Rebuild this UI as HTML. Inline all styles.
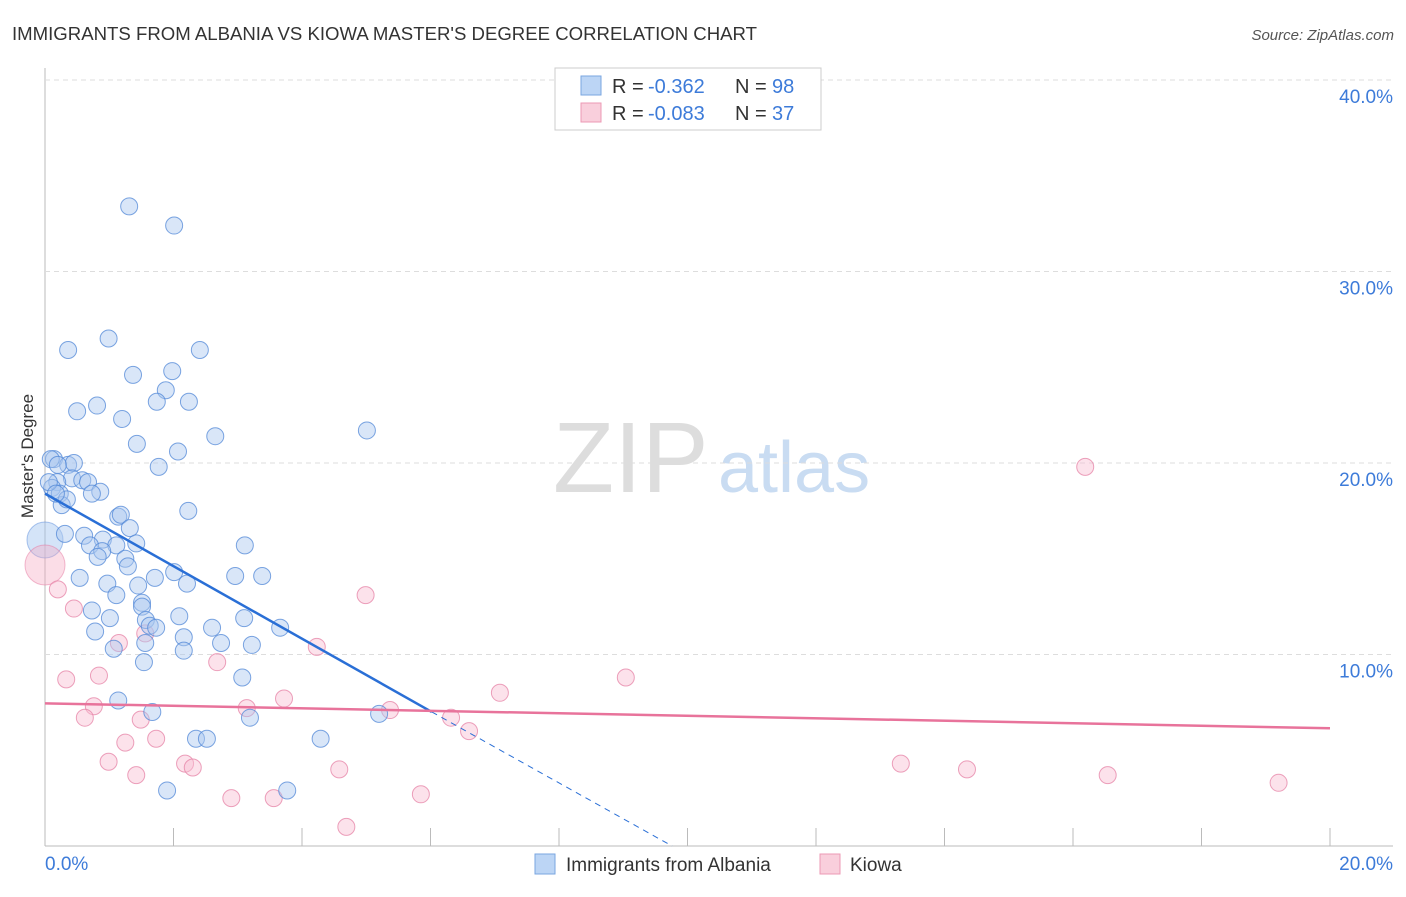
<!DOCTYPE html>
<html><head><meta charset="utf-8"><style>
body{margin:0;background:#fff;font-family:"Liberation Sans",sans-serif}
svg text{font-family:"Liberation Sans",sans-serif}
</style></head><body>
<svg id="c" width="1406" height="892">
<text x="12" y="40" font-size="18.6" fill="#333">IMMIGRANTS FROM ALBANIA VS KIOWA MASTER'S DEGREE CORRELATION CHART</text>
<text x="1394" y="40" font-size="15" fill="#555" font-style="italic" text-anchor="end">Source: ZipAtlas.com</text>
<text x="33" y="456" font-size="17" fill="#333" text-anchor="middle" transform="rotate(-90 33 456)">Master's Degree</text>
<text x="553" y="492" font-size="100" fill="#ddd" font-family="Liberation Serif">ZIP</text>
<text x="718" y="492" font-size="72" fill="#c9dcf2">atlas</text>
<g id="grid"></g><g id="pts"></g><g id="lines"></g>
<g>
<rect x="555" y="68" width="266" height="62" fill="#fff" stroke="#ccc"/>
<rect x="581" y="76" width="20" height="19" fill="#bcd5f5" stroke="#7aa6e0"/>
<text x="612" y="93" font-size="20" fill="#333">R =</text>
<text x="648" y="93" font-size="20" fill="#3d7bd9">-0.362</text>
<text x="735" y="93" font-size="20" fill="#333">N =</text>
<text x="772" y="93" font-size="20" fill="#3d7bd9">98</text>
<rect x="581" y="103" width="20" height="19" fill="#f9cfdc" stroke="#ec9ab4"/>
<text x="612" y="120" font-size="20" fill="#333">R =</text>
<text x="648" y="120" font-size="20" fill="#3d7bd9">-0.083</text>
<text x="735" y="120" font-size="20" fill="#333">N =</text>
<text x="772" y="120" font-size="20" fill="#3d7bd9">37</text>
</g>
<g>
<rect x="535" y="854" width="20" height="20" fill="#bcd5f5" stroke="#7aa6e0"/>
<text x="566" y="871" font-size="19" fill="#333">Immigrants from Albania</text>
<rect x="820" y="854" width="20" height="20" fill="#f9cfdc" stroke="#ec9ab4"/>
<text x="850" y="871" font-size="19" fill="#333">Kiowa</text>
</g>
</svg>
<script>
const xTicks=[0,2,4,6,8,10,12,14,16,18,20];
const yTicks=[10,20,30,40];
const albaniaX=[1.31,2.01,0.99,0.36,2.41,1.98,1.37,1.88,1.74,2.24,0.5,0.81,1.2,1.43,2.65,2.07,5.01,0.14,0.36,0.45,1.77,0.42,0.58,0.67,0.19,0.11,0.23,0.86,0.73,0.26,0.34,2.23,1.14,1.18,1.32,0.61,0.31,0.9,1.11,1.42,0.7,3.11,0.89,1.25,0.82,1.29,1.71,2.96,3.38,0.54,2.01,0.97,2.21,1.45,1.11,1.51,1.51,0.73,2.09,1.01,1.57,3.1,1.63,1.73,0.78,3.66,2.6,2.16,2.16,1.56,1.07,2.74,3.22,3.07,1.54,1.14,1.67,3.19,5.2,2.35,2.52,4.29,1.9,3.77,0.06,0.17,0.09,0.2];
const albaniaY=[33.4,32.4,26.5,25.9,25.9,24.8,24.6,23.8,23.2,23.2,22.7,23.0,22.3,21.0,21.4,20.6,21.7,20.2,19.9,20.0,19.8,19.2,19.1,19.0,19.0,18.7,18.4,18.5,18.4,17.8,18.1,17.5,17.2,17.3,16.6,16.2,16.3,16.0,15.7,15.8,15.7,15.7,15.4,15.0,15.1,14.6,14.0,14.1,14.1,14.0,14.3,13.7,13.7,13.6,13.1,12.7,12.5,12.3,12.0,11.9,11.8,11.9,11.5,11.4,11.2,11.4,11.4,10.9,10.2,10.6,10.3,10.6,10.5,8.8,9.6,7.6,7.0,6.7,6.9,5.6,5.6,5.6,2.9,2.9,19.0,18.4,20.2,19.9];
const kiowaX=[16.19,0.2,4.99,0.45,4.23,1.56,1.15,0.33,0.84,9.04,7.08,0.76,3.72,5.37,3.14,0.62,6.32,1.49,6.6,1.25,1.73,2.68,0.99,2.18,2.3,1.42,4.58,13.32,14.35,16.54,19.2,2.9,3.56,5.85,4.69];
const kiowaY=[19.8,13.4,13.1,12.4,10.4,11.1,10.6,8.7,8.9,8.8,8.0,7.3,7.7,7.1,7.2,6.7,6.7,6.6,6.0,5.4,5.6,9.6,4.4,4.3,4.1,3.7,4.0,4.3,4.0,3.7,3.3,2.5,2.5,2.7,1.0];
const X=v=>45+v*64.25, Y=v=>846-v*19.15;
const NS="http://www.w3.org/2000/svg";
function mk(t,a,p){const e=document.createElementNS(NS,t);for(const k in a)e.setAttribute(k,a[k]);p.appendChild(e);return e;}
const grid=document.getElementById('grid');
mk('line',{x1:45,y1:68,x2:45,y2:846,stroke:'#bbb'},grid);
mk('line',{x1:45,y1:846,x2:1393,y2:846,stroke:'#bbb'},grid);
yTicks.forEach(t=>{
 const l=mk('line',{x1:45,y1:Y(t),x2:1393,y2:Y(t),stroke:'#ddd','stroke-dasharray':'5,4'},grid);
 
 
 const tx=mk('text',{x:1393,y:Y(t)+23,'font-size':19,fill:'#3d7bd9','text-anchor':'end'},grid);
 tx.textContent=t.toFixed(1)+'%';
 
 
});
xTicks.forEach(t=>{
 const l=mk('line',{x1:X(t),y1:828,x2:X(t),y2:846,stroke:'#bbb'},grid);
 
 
});
[[0,45,'start'],[20,1393,'end']].forEach(([t,x,a])=>{
 const tx=mk('text',{x:x,y:870,'font-size':19,fill:'#3d7bd9','text-anchor':a},grid);
 tx.textContent=t.toFixed(1)+'%';
 
 
});
const pts=document.getElementById('pts');
const b1=mk('circle',{cx:45,cy:540,r:18,fill:'rgba(160,195,240,0.45)',stroke:'rgba(90,140,220,0.5)'},pts);


const p1=mk('circle',{cx:45,cy:565,r:20,fill:'rgba(245,170,195,0.4)',stroke:'rgba(230,120,160,0.5)'},pts);


kiowaX.forEach((v,i)=>{
 const c=mk('circle',{cx:X(v),cy:Y(kiowaY[i]),r:8.5,fill:'rgba(248,190,210,0.45)',stroke:'rgba(230,130,165,0.75)'},pts);
 
 
});
albaniaX.forEach((v,i)=>{
 const c=mk('circle',{cx:X(v),cy:Y(albaniaY[i]),r:8.5,fill:'rgba(170,200,240,0.45)',stroke:'rgba(80,135,215,0.75)'},pts);
 
 
});
const lines=document.getElementById('lines');
const bl=mk('line',{x1:X(0),y1:Y(18.4),x2:X(6.02),y2:Y(7.0),stroke:'#2a6fd6','stroke-width':2.5},lines);


const bd=mk('line',{x1:X(6.02),y1:Y(7.0),x2:X(9.76),y2:Y(0),stroke:'#2a6fd6','stroke-width':1,'stroke-dasharray':'6,5'},lines);


const pl=mk('line',{x1:X(0),y1:Y(7.45),x2:X(20),y2:Y(6.15),stroke:'#e8739b','stroke-width':2.5},lines);


</script>
</body></html>
